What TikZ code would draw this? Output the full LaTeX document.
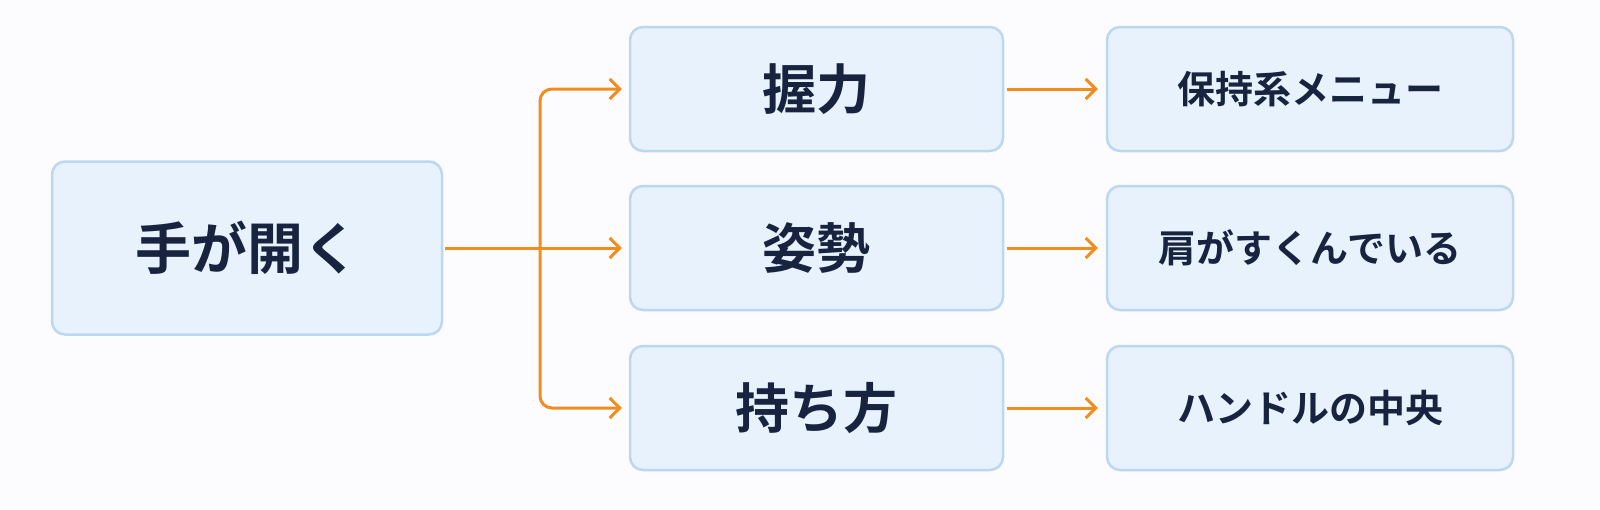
\documentclass[tikz,border=0pt]{standalone}
\usepackage{fontspec}
\newfontfamily\cjk{Noto Sans CJK JP Bold}
\usetikzlibrary{arrows.meta}
\definecolor{bx}{HTML}{E7F2FD}
\definecolor{bd}{HTML}{BBD7F2}
\definecolor{tx}{HTML}{18233F}
\definecolor{og}{HTML}{F28C1E}
\begin{document}
\begin{tikzpicture}[x=1pt,y=-1pt,
 box/.style={draw=bd,line width=2.5pt,fill=bx,rounded corners=13pt,text=tx,font=\cjk},
 arr/.style={draw=og,line width=3pt,-{Straight Barb[length=10pt,width=20pt,line width=3pt]}}]
\fill[white!97!blue!40] (0,0) rectangle (1600,509);
\node[box,minimum width=390pt,minimum height=173pt,font=\cjk\fontsize{56}{62}\selectfont] (a) at (247,248) {手が開く};
\foreach \n/\y/\t/\u in {b/89/握力/保持系メニュー, c/248/姿勢/肩がすくんでいる, d/408/持ち方/ハンドルの中央}{
 \node[box,minimum width=373pt,minimum height=124pt,font=\cjk\fontsize{54}{60}\selectfont] (\n) at (816.5,\y) {\t};
 \node[box,minimum width=406pt,minimum height=124pt,font=\cjk\fontsize{38}{44}\selectfont] (\n2) at (1310,\y) {\u};
 \draw[arr] (\n.east) ++(3,0) -- ([xshift=-8pt]\n2.west);
}
\coordinate (j) at (540,248);
\draw[arr] (a.east) ++(2,0) -- ([xshift=-7pt]c.west);
\draw[arr,rounded corners=12pt] (j) -- (j|-b) -- ([xshift=-7pt]b.west);
\draw[arr,rounded corners=12pt] (j) -- (j|-d) -- ([xshift=-7pt]d.west);
\pgfresetboundingbox
\useasboundingbox (0,0) rectangle (1600,509);
\end{tikzpicture}
\end{document}
